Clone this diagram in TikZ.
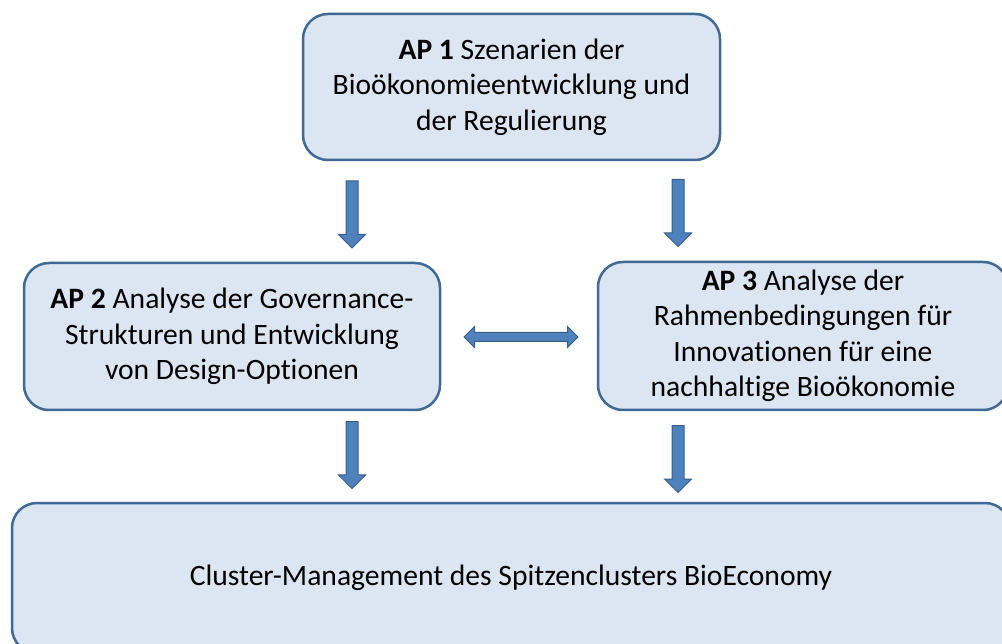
\documentclass[tikz,border=0pt]{standalone}
\usepackage{fontspec}
\setmainfont[Ligatures=NoCommon]{Carlito}
\usetikzlibrary{shapes.arrows, positioning}
\definecolor{boxfill}{RGB}{220, 230, 242}
\definecolor{boxline}{RGB}{65, 105, 150}
\definecolor{arrowfill}{RGB}{79, 129, 189}
\definecolor{arrowline}{RGB}{56, 93, 138}
\tikzset{
    apbox/.style={draw=boxline, fill=boxfill, line width=2.5pt, rounded corners=25pt,
        align=center, font=\fontsize{29.6}{35.5}\selectfont, inner sep=0pt},
    downarrow/.style={single arrow, draw=arrowline, fill=arrowfill, line width=1pt,
        shape border rotate=270, inner sep=5.5pt, single arrow head extend=7.5pt,
        minimum height=67pt},
    botharrow/.style={double arrow, draw=arrowline, fill=arrowfill, line width=1pt,
        inner sep=4pt, double arrow head extend=6pt, minimum height=114pt}
}
\begin{document}
\begin{tikzpicture}[x=1pt, y=-1pt]
        \useasboundingbox (0,0) rectangle (1002,644);

        % Work packages
        \node[apbox, minimum width=417pt, minimum height=146pt] (ap1) at (511.5,87)
            {\textbf{AP 1} Szenarien der\\Bioökonomieentwicklung und\\der Regulierung};
        \node[apbox, minimum width=416pt, minimum height=147pt] (ap2) at (232,336.5)
            {\textbf{AP 2} Analyse der Governance-\\Strukturen und Entwicklung\\von Design-Optionen};
        \node[apbox, minimum width=410pt, minimum height=148pt] (ap3) at (803,336)
            {\textbf{AP 3} Analyse der\\Rahmenbedingungen für\\Innovationen für eine\\nachhaltige Bioökonomie};

        % Cluster management
        \node[apbox, minimum width=998pt, minimum height=150pt] (cluster) at (511,578)
            {Cluster-Management des Spitzenclusters BioEconomy};

        % Block arrows
        \node[downarrow] (a12) at (352,211.5) {};
        \node[downarrow] (a13) at (678,210) {};
        \node[downarrow] (a2c) at (352,452) {};
        \node[downarrow] (a3c) at (678,456) {};
        \node[botharrow] (a23) at (521,337) {};
    \end{tikzpicture}
\end{document}
